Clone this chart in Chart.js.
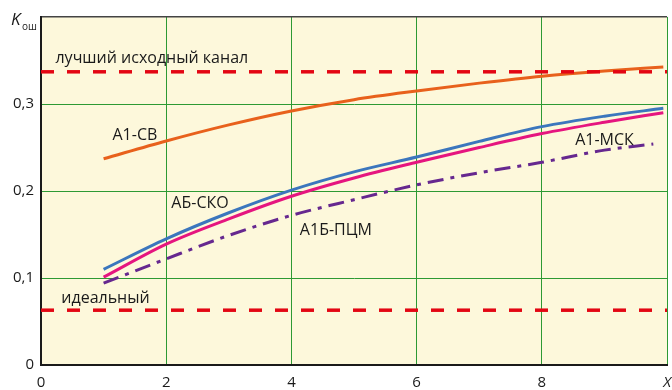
<!DOCTYPE html>
<html>
<head>
<meta charset="utf-8">
<script src="https://cdn.jsdelivr.net/npm/chart.js@4.4.1/dist/chart.umd.min.js"></script>
<style>
  html, body { margin: 0; padding: 0; background: #fff; overflow: hidden; }
  #wrap { width: 680px; height: 390px; }
</style>
</head>
<body>
<div id="wrap"><canvas id="chart"></canvas></div>
<script>
// ---- дані з рисунка ----
const xPts   = [1, 2, 3, 4, 5, 6, 7, 8, 9, 9.94];
const a1sv   = [0.237, 0.2575, 0.276, 0.292, 0.305, 0.315, 0.324, 0.332, 0.338, 0.3425];
const abSko  = [0.110, 0.145, 0.175, 0.201, 0.222, 0.239, 0.257, 0.274, 0.286, 0.295];
const a1Msk  = [0.101, 0.139, 0.168, 0.194, 0.215, 0.233, 0.250, 0.266, 0.279, 0.290];
const xPcm   = [1, 2, 3, 4, 5, 6, 7, 8, 9, 9.78];
const a1bPcm = [0.094, 0.122, 0.149, 0.172, 0.190, 0.207, 0.221, 0.233, 0.247, 0.254];
const bestLevel  = 0.337;
const idealLevel = 0.063;
const xTicks = [0, 2, 4, 6, 8, 10];
const yTicks = [0, 0.1, 0.2, 0.3];

// підписи (центр по x, базова лінія по y — в координатах даних)
const labels = [
  { text: 'лучший исходный канал', x: 1.77, y: 0.347 },
  { text: 'идеальный', x: 1.03, y: 0.0713 },
  { text: 'А1-СВ', x: 1.50, y: 0.2586 },
  { text: 'АБ-СКО', x: 2.54, y: 0.1805 },
  { text: 'А1Б-ПЦМ', x: 4.71, y: 0.1494 },
  { text: 'А1-МСК', x: 9.0, y: 0.2529 }
];

const pts = (xs, ys) => xs.map((x, i) => ({ x: x, y: ys[i] }));
const FONT = "'Open Sans', 'Noto Sans', sans-serif";

const bgPlugin = {
  id: 'bg',
  beforeDraw(chart) {
    const { ctx, chartArea: a } = chart;
    ctx.save();
    ctx.fillStyle = '#fdf8db';
    ctx.fillRect(a.left, a.top, a.right - a.left, a.bottom - a.top);
    ctx.restore();
  }
};

const textPlugin = {
  id: 'texts',
  afterDraw(chart) {
    const { ctx, scales } = chart;
    ctx.save();
    ctx.fillStyle = '#1a1a1a';
    ctx.font = '16px ' + FONT;
    ctx.textAlign = 'center';
    ctx.textBaseline = 'alphabetic';
    labels.forEach(l => {
      ctx.fillText(l.text, scales.x.getPixelForValue(l.x), scales.y.getPixelForValue(l.y));
    });
    // подпись оси Y: K_ош
    const a = chart.chartArea;
    ctx.textAlign = 'left';
    ctx.font = 'italic 17px ' + FONT;
    ctx.fillText('K', a.left - 30, a.top + 8);
    ctx.font = '10px ' + FONT;
    ctx.fillText('ош', a.left - 19, a.top + 13);
    ctx.restore();
  }
};

new Chart(document.getElementById('chart'), {
  type: 'line',
  data: {
    datasets: [
      { data: pts([0, 10], [bestLevel, bestLevel]), borderColor: '#e30613', borderWidth: 3.5, borderDash: [13, 13] },
      { data: pts([0, 10], [idealLevel, idealLevel]), borderColor: '#e30613', borderWidth: 3.5, borderDash: [13, 13] },
      { data: pts(xPts, a1sv), borderColor: '#e8611c', borderWidth: 3, cubicInterpolationMode: 'monotone' },
      { data: pts(xPts, abSko), borderColor: '#3b76bd', borderWidth: 3, cubicInterpolationMode: 'monotone' },
      { data: pts(xPts, a1Msk), borderColor: '#e5157f', borderWidth: 3, cubicInterpolationMode: 'monotone' },
      { data: pts(xPcm, a1bPcm), borderColor: '#66288f', borderWidth: 3, borderDash: [16, 7, 4, 7], cubicInterpolationMode: 'monotone' }
    ]
  },
  options: {
    responsive: true,
    maintainAspectRatio: false,
    animation: false,
    layout: { padding: { top: 17, right: 4, left: 0, bottom: 0 } },
    elements: { point: { radius: 0 } },
    plugins: { legend: { display: false }, tooltip: { enabled: false } },
    scales: {
      x: {
        type: 'linear', min: 0, max: 10,
        afterBuildTicks: s => { s.ticks = xTicks.map(v => ({ value: v })); },
        afterFit: s => { s.height = 25; },
        border: { color: '#1a1a1a', width: 2 },
        grid: { color: '#2d9a34', lineWidth: 1, drawTicks: false },
        ticks: {
          color: '#1a1a1a', padding: 9, maxRotation: 0,
          font: c => (c.tick && c.tick.value === 10) ? { family: FONT, size: 15, style: 'italic' } : { family: FONT, size: 15 },
          callback: v => v === 10 ? 'X' : String(v)
        }
      },
      y: {
        min: 0, max: 0.4,
        afterBuildTicks: s => { s.ticks = yTicks.concat([0.4]).map(v => ({ value: v })); },
        afterFit: s => { s.width = 41; },
        border: { color: '#1a1a1a', width: 2 },
        grid: {
          color: c => c.tick.value === 0.4 ? '#444' : '#2d9a34',
          lineWidth: c => c.tick.value === 0.4 ? 1.5 : 1,
          drawTicks: false
        },
        ticks: {
          color: '#1a1a1a', padding: 7,
          font: { family: FONT, size: 15 },
          callback: v => v === 0.4 ? '' : (v === 0 ? '0' : v.toFixed(1).replace('.', ','))
        }
      }
    }
  },
  plugins: [bgPlugin, textPlugin]
});
</script>
</body>
</html>
